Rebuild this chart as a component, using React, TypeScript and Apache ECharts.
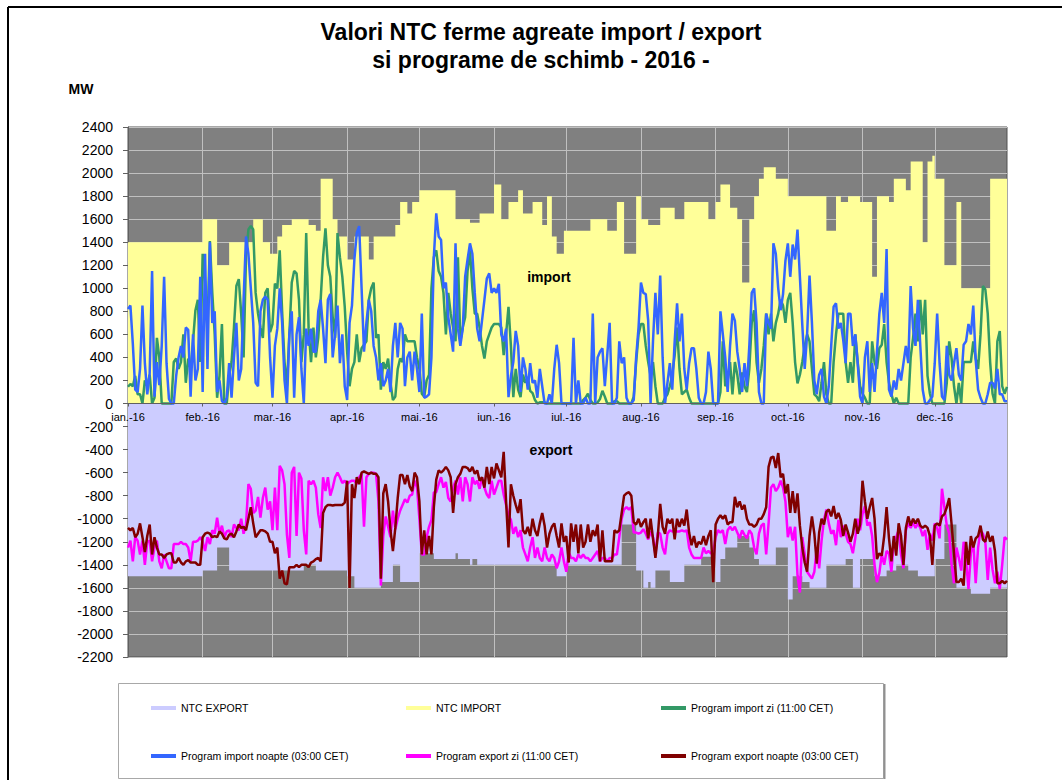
import React, { useEffect, useRef } from 'react';
import * as echarts from 'echarts';

// ---------- axis / calendar ----------
const monthLabels = ['ian.-16', 'feb.-16', 'mar.-16', 'apr.-16', 'mai.-16', 'iun.-16', 'iul.-16', 'aug.-16', 'sep.-16', 'oct.-16', 'nov.-16', 'dec.-16'];
const monthLengths = [31, 29, 31, 30, 31, 30, 31, 31, 30, 31, 30, 31];
const yTickMin = -2200;
const yTickMax = 2400;
const yTickStep = 200;

// ---------- NTC step values: [first day index, MW] ----------
const ntcImportSteps: [number, number][] = [
  [0, 1400], [31, 1600], [37, 1200], [42, 1400], [52, 1600], [56, 1400], [59, 1300], [62, 1450], [64, 1550], [68, 1600],
  [75, 1550], [78, 1500], [80, 1950], [85, 1600], [87, 1450], [91, 1250], [94, 1450], [100, 1250], [102, 1450], [111, 1550],
  [113, 1750], [116, 1650], [118, 1750], [121, 1850], [136, 1600], [142, 1570], [146, 1650], [152, 1900], [155, 1600], [158, 1750],
  [162, 1850], [164, 1650], [168, 1750], [172, 1550], [174, 1800], [176, 1450], [178, 1300], [181, 1500], [192, 1600], [199, 1500],
  [203, 1750], [206, 1300], [211, 1800], [213, 1600], [216, 1550], [221, 1700], [227, 1600], [231, 1750], [241, 1600], [244, 1750],
  [246, 1900], [250, 1700], [253, 1600], [255, 1050], [258, 1600], [260, 1800], [262, 1950], [264, 2050], [269, 1950], [274, 1800],
  [290, 1500], [294, 1800], [296, 1750], [299, 1800], [304, 1750], [309, 1100], [311, 1800], [316, 1750], [318, 1950], [323, 1850],
  [325, 2100], [330, 1400], [332, 2100], [334, 2150], [335, 1950], [339, 1200], [344, 1750], [346, 1000], [358, 1950],
];
const ntcExportSteps: [number, number][] = [
  [0, -1500], [31, -1450], [37, -1250], [42, -1450], [73, -1400], [78, -1450], [91, -1500], [94, -1600], [105, -1550], [110, -1400],
  [113, -1550], [121, -1300], [127, -1350], [136, -1300], [137, -1350], [142, -1400], [143, -1350], [145, -1400], [178, -1500], [182, -1400],
  [205, -1050], [211, -1450], [214, -1600], [216, -1550], [217, -1600], [219, -1450], [225, -1550], [231, -1400], [238, -1330], [244, -1550],
  [246, -1350], [248, -1250], [253, -1150], [258, -1250], [260, -1350], [262, -1400], [269, -1250], [274, -1700], [276, -1500], [280, -1550],
  [283, -1600], [290, -1400], [298, -1350], [301, -1600], [304, -1350], [310, -1500], [315, -1450], [319, -1400], [324, -1450], [328, -1500],
  [335, -1350], [339, -1050], [344, -1600], [350, -1650], [358, -1600],
];

// ---------- daily programs, one row per month ----------
const importDay: number[][] = [
  [145, 170, 150, 240, 80, 80, 0, 200, 150, 250, 0, 50, 570, 400, 0, 0, 0, 0, 0, 360, 390, 300, 360, 600, 180, 390, 300, 540, 810, 900, 360],
  [1300, 1050, 650, 1410, 960, 600, 50, 240, 690, 0, 0, 240, 360, 660, 1020, 1080, 780, 400, 1270, 1510, 1540, 1510, 960, 780, 660, 570, 960, 1000, 620],
  [690, 1040, 1000, 1330, 800, 360, 150, 600, 1050, 1150, 1130, 900, 360, 600, 1480, 650, 360, 660, 400, 570, 900, 1270, 1520, 1200, 1100, 750, 570, 1480, 1270, 1100, 840],
  [450, 150, 300, 360, 600, 360, 480, 510, 540, 900, 1000, 1050, 570, 600, 120, 360, 300, 390, 180, 30, 60, 300, 390, 360, 600, 540, 540, 540, 540, 400],
  [300, 85, 60, 200, 250, 1000, 1270, 1330, 1150, 1100, 960, 600, 960, 780, 660, 540, 1270, 540, 660, 750, 1150, 1330, 1000, 780, 780, 660, 500, 390, 540, 600, 660],
  [690, 690, 690, 660, 420, 600, 840, 500, 55, 300, 120, 55, 250, 180, 230, 110, 90, 30, 0, 10, 10, 10, 0, 0, 0, 0, 0, 0, 0, 0],
  [0, 0, 0, 0, 0, 0, 0, 30, 50, 85, 30, 0, 0, 10, 40, 110, 60, 0, 0, 0, 20, 20, 0, 0, 0, 0, 0, 0, 60, 360, 600],
  [690, 690, 500, 360, 240, 360, 150, 0, 0, 0, 50, 80, 150, 250, 420, 660, 300, 80, 100, 120, 50, 0, 0, 0, 0, 0, 0, 0, 0, 0, 0],
  [0, 0, 100, 540, 150, 200, 360, 80, 360, 250, 80, 270, 150, 100, 300, 700, 810, 360, 180, 300, 500, 780, 600, 780, 540, 700, 780, 900, 850, 700],
  [900, 960, 700, 360, 175, 250, 360, 500, 600, 540, 300, 80, 60, 20, 180, 360, 80, 0, 0, 360, 600, 780, 780, 780, 360, 180, 360, 180, 600, 360, 150],
  [85, 50, 0, 0, 540, 360, 300, 480, 510, 690, 360, 180, 85, 0, 50, 0, 0, 0, 0, 0, 400, 570, 780, 540, 900, 600, 900, 240, 85, 0],
  [0, 0, 0, 0, 0, 180, 540, 390, 150, 0, 180, 0, 360, 360, 360, 360, 540, 390, 300, 600, 1020, 990, 780, 360, 85, 0, 540, 630, 150, 85, 145],
];
const importNight: number[][] = [
  [820, 850, 520, 120, 100, 300, 850, 350, 80, 260, 1150, 60, 360, 160, 500, 1100, 350, 40, 0, 0, 240, 400, 500, 400, 660, 640, 60, 600, 200, 300, 1100],
  [100, 1300, 300, 1400, 700, 800, 100, 200, 20, 0, 50, 350, 50, 400, 700, 200, 300, 900, 1450, 1300, 1000, 700, 180, 150, 800, 900, 930, 900, 400],
  [50, 500, 650, 1000, 700, 200, 0, 600, 800, 50, 600, 750, 300, 0, 650, 500, 650, 450, 450, 800, 900, 650, 350, 900, 950, 400, 600, 850, 350, 600, 150],
  [30, 700, 850, 1250, 1480, 1540, 1000, 450, 700, 900, 800, 500, 400, 200, 350, 150, 200, 300, 100, 500, 700, 400, 700, 650, 150, 400, 450, 200, 450, 300],
  [100, 780, 50, 60, 80, 400, 1270, 1650, 1450, 1420, 1000, 1050, 750, 600, 450, 1390, 650, 500, 650, 1100, 1250, 1390, 1300, 960, 650, 540, 720, 900, 1085, 1130, 960],
  [1000, 960, 1040, 600, 540, 650, 55, 240, 360, 630, 500, 100, 400, 300, 120, 350, 180, 200, 50, 300, 150, 0, 0, 80, 0, 300, 510, 350, 0, 0],
  [0, 0, 0, 570, 0, 200, 0, 0, 50, 0, 0, 780, 0, 400, 450, 480, 150, 420, 700, 0, 0, 50, 540, 350, 400, 50, 0, 0, 30, 400, 660],
  [1050, 960, 950, 720, 0, 540, 960, 600, 1110, 400, 0, 180, 350, 120, 540, 870, 540, 780, 300, 120, 350, 480, 480, 300, 50, 0, 0, 100, 450, 300, 0],
  [0, 0, 800, 600, 400, 100, 500, 780, 720, 450, 300, 100, 350, 150, 500, 960, 1000, 700, 100, 0, 0, 780, 700, 650, 1390, 1300, 1000, 810, 950, 1240],
  [1390, 1100, 1380, 1250, 1510, 1100, 680, 300, 600, 1110, 700, 200, 80, 250, 300, 60, 0, 150, 500, 840, 870, 650, 700, 550, 350, 780, 780, 500, 600, 350, 60],
  [0, 400, 540, 100, 350, 100, 450, 780, 960, 700, 1340, 120, 60, 200, 120, 300, 200, 350, 500, 350, 1020, 650, 500, 900, 500, 120, 0, 0, 30, 60],
  [350, 780, 350, 60, 30, 500, 250, 200, 350, 480, 250, 200, 510, 540, 690, 600, 850, 380, 120, 50, 0, 0, 80, 180, 180, 130, 300, 80, 80, 20, 20],
];
const exportDay: number[][] = [
  [-1250, -1190, -1370, -1160, -1190, -1310, -1190, -1400, -1200, -1190, -1370, -1250, -1190, -1370, -1430, -1310, -1370, -1430, -1430, -1220, -1220, -1220, -1200, -1220, -1220, -1250, -1370, -1200, -1200, -1190, -1160],
  [-1200, -1280, -1160, -1220, -1100, -1130, -990, -1130, -1060, -1160, -1110, -1100, -1160, -1050, -1080, -1100, -1000, -1130, -1050, -700, -740, -950, -930, -810, -990, -820, -730, -920, -850],
  [-1100, -730, -1100, -540, -580, -700, -1140, -1340, -600, -550, -1150, -600, -650, -1100, -1310, -670, -700, -670, -730, -960, -1080, -640, -760, -640, -800, -730, -640, -600, -640, -690, -670],
  [-700, -680, -670, -670, -700, -640, -610, -1070, -640, -610, -600, -600, -610, -850, -1580, -1150, -980, -1070, -1160, -930, -1090, -1000, -930, -880, -830, -860, -800, -790, -670, -730],
  [-1000, -1310, -1310, -1160, -1070, -1010, -770, -770, -700, -640, -730, -680, -820, -850, -730, -670, -790, -640, -850, -640, -700, -850, -640, -700, -670, -740, -640, -730, -790, -820, -670],
  [-790, -730, -670, -670, -790, -880, -970, -1010, -1130, -1070, -1160, -1100, -1250, -1310, -1370, -1250, -1160, -1340, -1250, -1340, -1370, -1250, -1340, -1370, -1310, -1340, -1430, -1370, -1250, -1370],
  [-1460, -1290, -1340, -1340, -1370, -1310, -1340, -1310, -1340, -1340, -1370, -1340, -1310, -1280, -1370, -1340, -1340, -1370, -1340, -1340, -1310, -1310, -1160, -1000, -920, -900, -920, -900, -1120, -1120, -1130],
  [-1120, -1090, -1130, -1180, -1110, -1160, -1310, -1120, -1130, -1250, -1310, -1130, -1100, -1110, -1110, -1110, -1110, -1100, -1110, -1100, -1250, -1310, -1340, -1340, -1340, -1340, -1250, -1300, -1280, -1300, -1300],
  [-1160, -1100, -1120, -1100, -1220, -1100, -1070, -1100, -1070, -1120, -1170, -1100, -1140, -1170, -1100, -1130, -1250, -1310, -1130, -1060, -1040, -1310, -1040, -730, -700, -760, -730, -670, -730, -850],
  [-1160, -1070, -1190, -1070, -1490, -1640, -1160, -1310, -1460, -1490, -1520, -1460, -1250, -1430, -1190, -1010, -920, -1040, -1130, -1100, -1230, -1010, -1160, -1060, -1130, -1200, -1220, -1300, -1170, -1000, -1100],
  [-960, -890, -1060, -1030, -1150, -1400, -1550, -1470, -1310, -1400, -1280, -1300, -1460, -1200, -1160, -1100, -1310, -1430, -1100, -1040, -1080, -1030, -1080, -1040, -1080, -1150, -1100, -1270, -1130, -1190],
  [-1040, -1080, -1170, -740, -900, -1060, -1130, -1400, -1560, -1250, -1340, -1450, -1200, -1360, -1610, -1300, -1200, -1560, -1250, -1100, -1130, -1200, -1530, -1250, -1440, -1560, -1460, -1610, -1400, -1160, -1180],
];
const exportNight: number[][] = [
  [-1080, -1100, -1080, -1160, -1130, -1040, -1160, -1290, -1150, -1050, -1310, -1160, -1250, -1310, -1310, -1340, -1310, -1300, -1300, -1380, -1380, -1340, -1380, -1400, -1370, -1360, -1380, -1380, -1380, -1400, -1400],
  [-1160, -1130, -1120, -1130, -1160, -1150, -1160, -1110, -1130, -1170, -1180, -1140, -1130, -1160, -1110, -1050, -1080, -1070, -1100, -1000, -900, -1040, -1160, -1130, -1100, -1100, -1110, -1130, -1200],
  [-1200, -1300, -1250, -1520, -1450, -1560, -1570, -1420, -1420, -1420, -1400, -1420, -1400, -1400, -1400, -1420, -1380, -1370, -1350, -1340, -1370, -950, -900, -880, -880, -885, -880, -880, -880, -880, -860],
  [-670, -1600, -700, -820, -640, -700, -600, -590, -600, -610, -600, -610, -610, -640, -1520, -780, -700, -850, -1100, -1280, -1080, -820, -620, -620, -700, -620, -720, -760, -600, -640],
  [-850, -1310, -1100, -1310, -1150, -1310, -900, -660, -580, -600, -580, -550, -580, -640, -950, -700, -640, -610, -550, -550, -560, -590, -550, -610, -580, -670, -640, -730, -550, -700, -550],
  [-650, -520, -580, -640, -420, -850, -1250, -700, -800, -880, -950, -830, -1100, -1130, -1070, -1150, -1000, -1100, -1150, -1040, -950, -1060, -1250, -1130, -1070, -1040, -1150, -1250, -1040, -1200],
  [-1150, -1380, -1040, -1200, -1050, -1300, -1050, -1250, -1200, -1050, -1200, -1100, -1150, -1050, -1370, -1100, -1370, -1370, -1370, -1370, -1100, -1120, -1100, -950, -800, -780, -770, -800, -1030, -1050, -1000],
  [-1070, -1030, -1000, -1170, -1000, -1170, -1340, -1150, -870, -1070, -1130, -1000, -1040, -1000, -1180, -1000, -1070, -1000, -1060, -920, -1120, -1230, -1150, -1250, -1200, -1220, -1150, -1230, -1150, -1100, -1550],
  [-1050, -1000, -970, -1000, -970, -1050, -1030, -1030, -810, -900, -850, -920, -880, -1000, -1050, -1050, -1070, -1050, -1000, -1000, -960, -900, -550, -470, -460, -560, -430, -640, -610, -780],
  [-700, -950, -760, -950, -780, -1060, -1250, -1380, -1460, -1150, -980, -1130, -1390, -1120, -1000, -1050, -940, -920, -980, -890, -1000, -950, -1010, -1150, -1050, -1120, -1200, -1130, -1000, -1130, -1050],
  [-670, -850, -1000, -900, -820, -1000, -1350, -1300, -1320, -1150, -900, -1170, -1370, -1150, -1320, -1040, -1150, -1400, -1080, -980, -1060, -1000, -1040, -1000, -1060, -1080, -1060, -1080, -1150, -1400],
  [-1060, -1040, -1060, -980, -960, -900, -820, -1050, -1300, -1550, -1550, -1520, -1580, -1200, -1400, -1150, -1250, -1170, -1150, -1060, -1180, -1200, -1110, -1200, -1150, -1280, -1560, -1560, -1540, -1560, -1540],
];

const seriesNames = {
  ntcExport: 'NTC EXPORT',
  ntcImport: 'NTC IMPORT',
  impDay: 'Program import zi (11:00 CET)',
  impNight: 'Program import noapte (03:00 CET)',
  expDay: 'Program export zi (11:00 CET)',
  expNight: 'Program export noapte (03:00 CET)',
};

// ---------- derived ----------
const dayCount = monthLengths.reduce((a, b) => a + b, 0);
const monthStart: number[] = monthLengths.reduce<number[]>((acc, _len, i) => {
  acc.push(i === 0 ? 0 : acc[i - 1] + monthLengths[i - 1]);
  return acc;
}, []);
const labelAt = new Map<number, string>(monthStart.map((s, i) => [s, monthLabels[i]]));
const isMonthStart = (i: number) => labelAt.has(i);
const categories = Array.from({ length: dayCount }, (_, i) => String(i));

function expandSteps(steps: [number, number][]): number[] {
  const out: number[] = [];
  let k = 0;
  for (let d = 0; d < dayCount; d++) {
    while (k + 1 < steps.length && steps[k + 1][0] <= d) k++;
    out.push(steps[k][1]);
  }
  return out;
}
const flat = (rows: number[][]) => rows.reduce<number[]>((a, r) => a.concat(r), []);

const FONT = '"Liberation Sans", Arial, sans-serif';

const W = 1062;
const H = 780;
const GRID = { left: 128, right: 55, top: 127, bottom: 123 };

function buildOption(): echarts.EChartsOption {
  const plotH = H - GRID.top - GRID.bottom;
  // place the labelled category axis on the value 0 line (offset measured from the bottom edge)
  const zeroOffset = -(plotH * (0 - yTickMin)) / (yTickMax - yTickMin);

  const lineSeries = (name: string, data: number[], color: string) => ({
    name,
    type: 'line' as const,
    xAxisIndex: 0,
    data,
    symbol: 'none',
    showSymbol: false,
    silent: true,
    lineStyle: { color, width: 2.5 },
    itemStyle: { color },
  });
  const areaSeries = (name: string, data: number[], color: string) => ({
    name,
    type: 'line' as const,
    xAxisIndex: 0,
    data,
    step: 'end' as const,
    symbol: 'none',
    showSymbol: false,
    silent: true,
    lineStyle: { width: 0, opacity: 0 },
    itemStyle: { color },
    areaStyle: { color, opacity: 1 },
  });
  const legendCommon = {
    orient: 'vertical' as const,
    top: 701,
    padding: 0,
    itemGap: 34,
    icon: 'rect',
    itemWidth: 25,
    itemHeight: 4,
    selectedMode: false,
    textStyle: { fontSize: 10.5, fontFamily: FONT, color: '#000', lineHeight: 14 },
  };
  const centered = { align: 'center', verticalAlign: 'middle', textAlign: 'center', textVerticalAlign: 'middle' };
  const monthInterval = (i: number) => isMonthStart(i);
  return {
    animation: false,
    backgroundColor: '#ffffff',
    grid: {
      ...GRID,
      show: true, backgroundColor: '#808080', borderColor: '#505050', borderWidth: 1,
      containLabel: false,
    },
    xAxis: [
      {
        // month grid lines, drawn beneath the areas
        type: 'category',
        data: categories,
        boundaryGap: false,
        position: 'bottom',
        axisLine: { show: false, onZero: false },
        axisTick: { show: false },
        axisLabel: { show: false },
        splitLine: { show: true, interval: monthInterval, lineStyle: { color: '#c0c0c0', width: 1 } },
      },
      {
        // labelled axis at the zero line, drawn above the areas
        type: 'category',
        data: categories,
        boundaryGap: false,
        position: 'bottom',
        offset: zeroOffset,
        z: 10,
        axisLine: { show: true, onZero: false, lineStyle: { color: '#606060', width: 1 } },
        axisTick: { show: true, interval: monthInterval, length: 3, lineStyle: { color: '#606060' } },
        axisLabel: {
          interval: monthInterval,
          formatter: (_v: string, i: number) => labelAt.get(i) ?? '',
          fontSize: 11, fontFamily: FONT, color: '#000', margin: 8,
        },
        splitLine: { show: false },
      },
    ],
    yAxis: {
      type: 'value',
      min: yTickMin, max: yTickMax, interval: yTickStep,
      axisLine: { show: true, lineStyle: { color: '#606060' } },
      axisTick: { show: true, length: 5, lineStyle: { color: '#606060' } },
      axisLabel: { fontSize: 14, fontFamily: FONT, color: '#000', margin: 15, formatter: (v: number) => String(v) },
      splitLine: { show: true, lineStyle: { color: '#c0c0c0', width: 1 } },
    },
    legend: [
      { ...legendCommon, left: 151, data: [seriesNames.ntcExport, seriesNames.impNight] },
      { ...legendCommon, left: 406, data: [seriesNames.ntcImport, seriesNames.expDay] },
      { ...legendCommon, left: 661, data: [seriesNames.impDay, seriesNames.expNight] },
    ],
    series: [
      areaSeries(seriesNames.ntcExport, expandSteps(ntcExportSteps), '#ccccff'),
      areaSeries(seriesNames.ntcImport, expandSteps(ntcImportSteps), '#ffff99'),
      lineSeries(seriesNames.impDay, flat(importDay), '#339966'),
      lineSeries(seriesNames.impNight, flat(importNight), '#3366ff'),
      lineSeries(seriesNames.expDay, flat(exportDay), '#ff00ff'),
      lineSeries(seriesNames.expNight, flat(exportNight), '#800000'),
    ],
    graphic: [
      { type: 'line', z: 50, shape: { x1: 8, y1: 7, x2: W, y2: 7 }, style: { stroke: '#000', lineWidth: 2 } },
      { type: 'line', z: 50, shape: { x1: 8, y1: 7, x2: 8, y2: H }, style: { stroke: '#000', lineWidth: 2 } },
      { type: 'rect', z: -1, shape: { x: 118.5, y: 683.5, width: 765, height: 95 }, style: { fill: '#fff', stroke: '#a8a8a8', lineWidth: 1 } },
      { type: 'line', z: 0, shape: { x1: 884.5, y1: 684, x2: 884.5, y2: 779 }, style: { stroke: '#909090', lineWidth: 2 } },
      { type: 'text', z: 50, x: 541, y: 32, style: { text: 'Valori NTC ferme agreate import / export', font: `bold 23px ${FONT}`, fill: '#000', ...centered } as any },
      { type: 'text', z: 50, x: 541, y: 60, style: { text: 'si programe de schimb - 2016 -', font: `bold 23px ${FONT}`, fill: '#000', ...centered } as any },
      { type: 'text', z: 50, x: 81, y: 89, style: { text: 'MW', font: `bold 14px ${FONT}`, fill: '#000', ...centered } as any },
      { type: 'text', z: 100, x: 549, y: 277, style: { text: 'import', font: `bold 14px ${FONT}`, fill: '#000', ...centered } as any },
      { type: 'text', z: 100, x: 551, y: 450, style: { text: 'export', font: `bold 14px ${FONT}`, fill: '#000', ...centered } as any },
    ],
  } as echarts.EChartsOption;
}

export default function App() {
  const ref = useRef<HTMLDivElement>(null);
  useEffect(() => {
    document.body.style.margin = '0';
    document.body.style.overflow = 'hidden';
    if (!ref.current) return;
    const chart = echarts.init(ref.current, undefined, { renderer: 'svg' });
    chart.setOption(buildOption());
    return () => chart.dispose();
  }, []);
  return <div ref={ref} style={{ width: W, height: H, background: '#fff' }} />;
}
